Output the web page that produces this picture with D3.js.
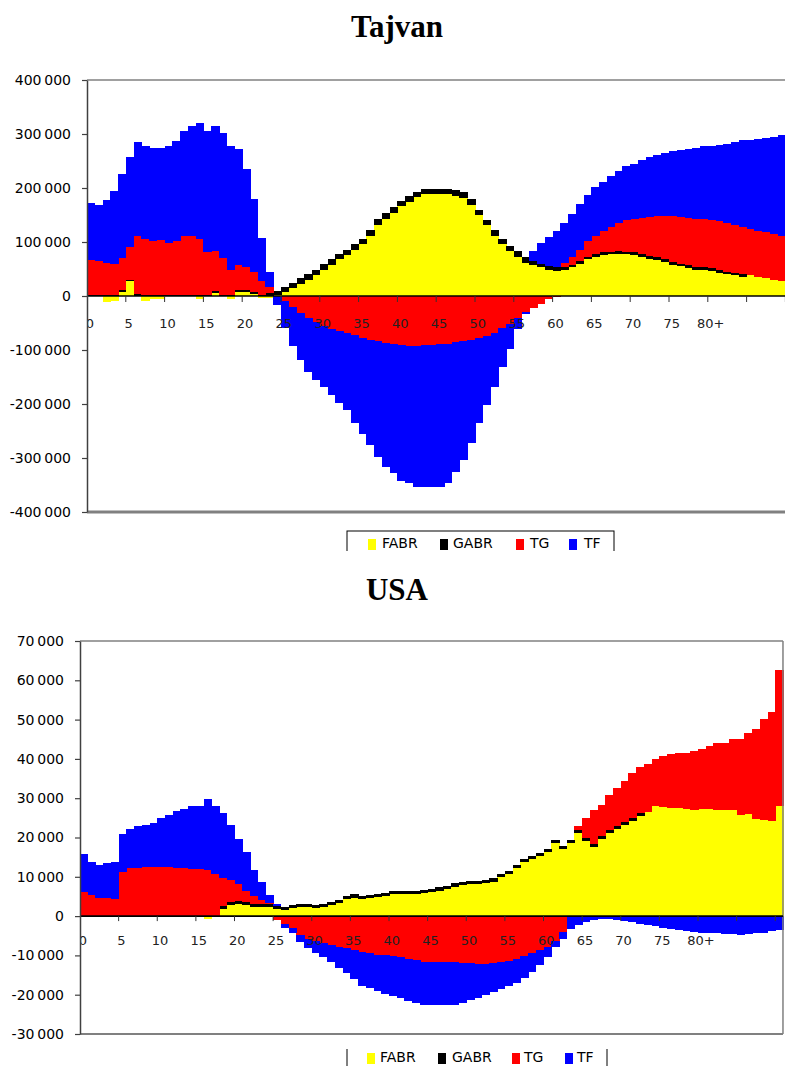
<!DOCTYPE html>
<html><head><meta charset="utf-8">
<script src="https://cdn.jsdelivr.net/npm/d3@7"></script>
<style>body{margin:0;background:#fff}svg{display:block}</style>
</head><body>
<svg id="c" width="785" height="1066"></svg>
<script>
// ---------- DATA (values in thousands) ----------
const UNIT = 1000;
const categories = d3.range(0, 91);            // ages 0 .. 90
const xTickLabels = ["0","5","10","15","20","25","30","35","40","45","50","55","60","65","70","75","80+"];
const xTickLabelAges = [0,5,10,15,20,25,30,35,40,45,50,55,60,65,70,75,80];
const xTickBoundaries = [5,10,15,20,25,30,35,40,45,50,55,60,65,70,75,80,85,90];
const seriesNames = ["FABR","GABR","TG","TF"];
const seriesColors = ["#ffff00","#000000","#ff0000","#0000ff"];

// Tajvan
const twFABR = [0,0,-12,-10,8,27,0,-9,-5,-5,0,0,0,0,-5,0,6,0,-6,8,8,4,-4,-3,2,
  7,15,23,30,38,49,58,68,76,86,96,112,132,143,154,166,175,183,189,189,189,189,186,182,169,150,131,112,96,83,73,62,
  57,53,49,46,
  49,53,60,68,73,76,77,78,77,76,73,69,67,63,58,55,52,49,48,46,43,40,38,36,
  38,36,33,30,27,24];
const twGABR = [2,2,2,2,4,3,3,2,2,2,2,2,2,2,2,2,3,2,2,4,4,4,2,5,7,
  10,10,10,10,10,10,10,10,10,10,10,10,10,10,10,10,10,10,10,10,10,10,10,10,10,10,10,10,10,10,10,10,
  7,7,7,7,
  5,5,5,5,5,5,5,5,5,5,5,5,5,5,5,5,5,5,5,5,5,5,5,5,
  0,0,0,0,0,0];
const twTG = [65,62,60,57,59,60,109,104,100,102,96,99,110,110,104,79,74,68,47,45,42,36,25,11,0,
  -9,-20,-31,-40,-48,-56,-61,-65,-69,-73,-77,-81,-84,-87,-89,-91,-92,-92,-91,-90,-89,-88,-86,-84,-81,-78,-74,-68,-60,-52,-40,-30,-22,-14,-5,-1,
  8,15,21,28,34,40,46,53,59,62,67,73,76,80,85,87,87,89,89,90,90,90,88,87,86,85,85,85,84,86];
const twTF = [106,104,116,135,155,167,173,172,172,171,180,186,194,203,214,225,232,232,229,215,182,136,80,28,
  -17,
  -51,-73,-88,-100,-108,-113,-122,-134,-143,-162,-179,-195,-214,-229,-239,-252,-254,-261,-262,-263,-264,-258,-239,-220,-192,-158,-128,-100,-71,-47,-22,-4,
  19,39,54,67,74,79,84,86,89,90,94,95,99,101,107,111,114,117,121,123,128,132,135,137,142,147,154,160,164,170,175,180,187,190];
const twYTicks = [400000,300000,200000,100000,0,-100000,-200000,-300000,-400000];

// USA
const usFABR = [0,0,0,0,0,0,0,0,0,0,0,0,0,0,0,0,-0.8,-0.3,
  1.7,2.8,3.0,2.8,2.4,2.4,2.2,1.8,1.6,2.0,2.4,2.4,2.0,2.3,2.7,3.4,4.4,4.7,4.4,4.5,4.8,5.2,5.6,5.6,5.6,5.6,5.8,6.1,6.5,6.9,7.5,7.9,8.2,8.2,8.5,8.8,9.9,10.7,12.2,13.8,14.6,15.3,16.2,18.5,17.1,18.6,21.1,19.0,17.5,19.6,21.1,22.1,23.2,24.1,25.5,26.6,27.9,27.7,27.4,27.6,27.3,27.0,27.3,27.3,27.0,27.0,27.0,25.7,26.0,24.6,24.5,24.2,27.9];
const usGABR = [0,0,0,0,0,0,0,0,0,0,0,0,0,0,0,0,0,0,
  0.8,0.8,0.8,0.8,0.8,0.8,0.8,0.8,0.8,0.8,0.8,0.8,0.8,0.8,0.8,0.8,0.8,0.8,0.8,0.8,0.8,0.8,0.8,0.8,0.8,0.8,0.8,0.8,0.8,0.8,0.8,0.8,0.8,0.8,0.8,0.8,0.8,0.8,0.8,0.8,0.8,0.8,0.8,0.8,0.8,0.8,0.8,0.8,0.8,0.8,0.8,0.8,0.8,0.8,0.8];
const usTG = [6.2,5.3,4.7,4.7,4.4,11.3,12.3,12.3,12.5,12.5,12.5,12.4,12.3,12.3,12.1,12.0,11.7,10.6,7.3,5.6,4.3,2.8,1.8,1.0,0.4,
  -1.0,-1.9,-3.1,-4.7,-5.7,-6.4,-6.8,-7.4,-7.8,-8.2,-8.7,-9.1,-9.5,-9.8,-9.9,-10.1,-10.3,-10.8,-11.2,-11.6,-11.8,-11.8,-11.8,-11.8,-11.9,-12.0,-12.3,-12.3,-12.0,-11.8,-11.5,-10.8,-10.1,-9.3,-8.7,-7.8,-6.4,-4.0,-0.3,
  1.0,5.1,8.8,7.8,8.9,9.8,10.4,11.4,11.7,12.0,12.0,13.1,13.8,13.8,14.3,14.9,15.2,16.1,17.0,17.0,18.0,19.3,20.5,22.9,25.6,27.7,34.7];
const usTF = [9.6,8.4,8.3,8.7,9.3,9.6,9.8,10.5,10.7,11.3,12.4,13.3,14.4,14.9,15.9,16.0,18.0,17.4,16.4,14.0,11.5,10.0,6.7,4.4,1.9,0.6,
  -1.1,-1.3,-1.8,-2.5,-3.1,-3.5,-4.2,-5.3,-6.4,-7.3,
  -8.6,-8.9,-9.3,-9.8,-10.2,-10.6,-10.7,-11.0,-10.9,-10.7,
  -10.7,-10.7,-10.7,-10.2,-9.4,-8.5,-7.8,-7.4,-6.8,-6.3,
  -6.1,-5.6,-4.9,-3.8,-2.5,-1.5,-1.7,-3.0,-2.3,-1.4,
  -1.0,-0.85,-0.85,-1.0,-1.3,-1.6,-2.0,-2.3,-2.6,-3.0,
  -3.3,-3.6,-3.8,-4.0,-4.2,-4.3,-4.4,-4.5,-4.6,-4.7,
  -4.6,-4.4,-4.2,-3.9,-3.6];
const usYTicks = [70000,60000,50000,40000,30000,20000,10000,0,-10000,-20000,-30000];

// ---------- DRAW ----------
const svg = d3.select("#c");
const fmt = v => {
  const s = d3.format(",")(Math.abs(v)).replace(/,/g, "\u2009");
  return (v < 0 ? "-" : "") + s;
};

function drawChart(cfg, idx) {
  const g = svg.append("g");
  const rows = categories.map((c, i) => {
    const r = {age: c};
    seriesNames.forEach((n, j) => r[n] = cfg.data[j][i] * UNIT);
    return r;
  });
  const x = d3.scaleBand().domain(categories)
    .range([cfg.left, cfg.left + cfg.catW * categories.length]).padding(0);
  const y = d3.scaleLinear().domain(cfg.domain).range([cfg.bottom, cfg.top]);
  const stacked = d3.stack().keys(seriesNames).offset(d3.stackOffsetDiverging)(rows);

  const clipId = "plotclip" + idx;
  svg.append("clipPath").attr("id", clipId).append("rect")
    .attr("x", cfg.left + 1).attr("y", cfg.top).attr("width", 785 - cfg.left).attr("height", cfg.bottom - cfg.top);

  // title
  g.append("text").attr("x", 397).attr("y", cfg.titleY).attr("text-anchor", "middle")
    .attr("font-family", "Liberation Serif, Times New Roman, serif").attr("font-weight", "bold")
    .attr("font-size", 31).text(cfg.title);

  // bars
  g.append("g").attr("clip-path", `url(#${clipId})`)
    .selectAll("g").data(stacked).join("g")
    .attr("fill", (d, i) => seriesColors[i])
    .selectAll("rect").data(d => d).join("rect")
    .attr("shape-rendering", "crispEdges")
    .attr("x", d => x(d.data.age))
    .attr("width", x.bandwidth() + 0.6)
    .attr("y", d => y(Math.max(d[0], d[1])))
    .attr("height", d => Math.abs(y(d[0]) - y(d[1])));

  // plot border
  const right = x.range()[1];
  g.append("line").attr("x1", cfg.left).attr("x2", right).attr("y1", cfg.top).attr("y2", cfg.top)
    .attr("stroke", "#808080").attr("stroke-width", 1.5);
  g.append("line").attr("x1", cfg.left).attr("x2", right).attr("y1", cfg.bottom).attr("y2", cfg.bottom)
    .attr("stroke", "#808080").attr("stroke-width", cfg.bottomBorder);
  g.append("line").attr("x1", right).attr("x2", right).attr("y1", cfg.top).attr("y2", cfg.bottom)
    .attr("stroke", "#808080").attr("stroke-width", 1.5);

  // zero line & x ticks
  const y0 = y(0);
  g.append("line").attr("x1", cfg.left).attr("x2", right).attr("y1", y0).attr("y2", y0)
    .attr("stroke", "#000").attr("stroke-width", 1.6);
  g.append("g").selectAll("line").data(xTickBoundaries).join("line")
    .attr("x1", d => x(d)).attr("x2", d => x(d))
    .attr("y1", y0).attr("y2", y0 + cfg.xTickLen)
    .attr("stroke", "#333").attr("stroke-width", 1);

  // x labels (clipped to plot like the original)
  g.append("g").attr("clip-path", `url(#${clipId})`)
    .selectAll("text").data(xTickLabelAges).join("text")
    .attr("x", d => x(d) + x.bandwidth() / 2 - 1)
    .attr("y", y0 + cfg.xLabelOffset)
    .attr("text-anchor", "middle").attr("dominant-baseline", "central")
    .attr("font-family", "DejaVu Sans, sans-serif").attr("font-size", 13).attr("fill", "#222")
    .text((d, i) => xTickLabels[i]);

  // y axis
  const ax = d3.axisLeft(y).tickValues(cfg.ticks).tickFormat(fmt).tickSize(5).tickSizeOuter(0).tickPadding(11);
  const ag = g.append("g").attr("transform", `translate(${cfg.left},0)`).call(ax);
  ag.select(".domain").attr("stroke", "#404040").attr("stroke-width", 1.5);
  ag.selectAll(".tick line").attr("stroke", "#404040").attr("stroke-width", 1.2);
  ag.selectAll(".tick text").attr("font-family", "DejaVu Sans, sans-serif").attr("font-size", 14)
    .attr("fill", "#000");

  // legend
  const lg = g.append("g");
  if (cfg.legendClip) {
    const lcid = "legclip" + idx;
    svg.append("clipPath").attr("id", lcid).append("rect")
      .attr("x", 0).attr("y", 0).attr("width", 785).attr("height", cfg.legendClip);
    lg.attr("clip-path", `url(#${lcid})`);
  }
  const L = cfg.legend;
  if (L.top != null) {
    lg.append("rect").attr("x", L.left).attr("y", L.top).attr("width", L.right - L.left).attr("height", 60)
      .attr("fill", "#fff").attr("stroke", "#000").attr("stroke-width", 1);
  } else {
    [L.left, L.right].forEach(xx => lg.append("line").attr("x1", xx).attr("x2", xx)
      .attr("y1", L.lineTop).attr("y2", 1066).attr("stroke", "#000").attr("stroke-width", 1));
  }
  seriesNames.forEach((n, i) => {
    lg.append("rect").attr("x", L.sw[i]).attr("y", L.swY).attr("width", 8).attr("height", 11)
      .attr("fill", seriesColors[i]);
    lg.append("text").attr("x", L.tx[i]).attr("y", L.textY)
      .attr("font-family", "DejaVu Sans, sans-serif").attr("font-size", 14).attr("fill", "#000").text(n);
  });
}

drawChart({
  title: "Tajvan", titleY: 37,
  data: [twFABR, twGABR, twTG, twTF],
  left: 87, catW: 7.76, top: 80, bottom: 512, domain: [-400000, 400000],
  ticks: twYTicks, bottomBorder: 3, xTickLen: 6, xLabelOffset: 27,
  legendClip: 551,
  legend: {left: 347, right: 614, top: 531, sw: [368, 440, 516, 569], swY: 539,
           tx: [382, 453, 530, 584], textY: 548}
}, 0);

drawChart({
  title: "USA", titleY: 600,
  data: [usFABR, usGABR, usTG, usTF],
  left: 80, catW: 7.725, top: 641, bottom: 1034, domain: [-30000, 70000],
  ticks: usYTicks, bottomBorder: 2, xTickLen: 5, xLabelOffset: 24,
  legendClip: null,
  legend: {left: 347, right: 607, top: null, lineTop: 1049, sw: [367, 438, 512, 565], swY: 1053,
           tx: [380, 452, 524, 577], textY: 1062}
}, 1);
</script>
</body></html>
